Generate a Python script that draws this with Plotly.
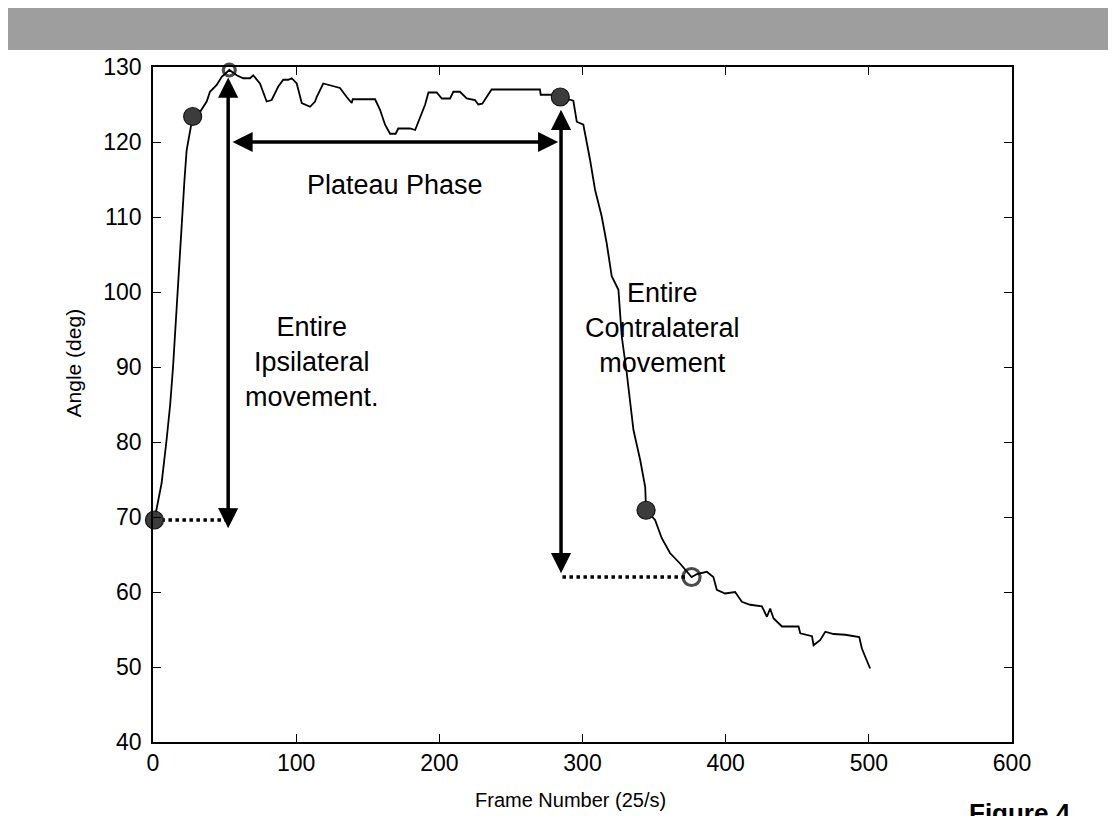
import plotly.graph_objects as go

# ---- data ----
frames = [1, 3, 6, 9.5, 12, 14, 17, 20, 22, 23.5, 26.5, 27.7, 32.8, 37.5, 39.8, 44.5, 48, 53.3,
          58.5, 63, 67.8, 70, 74.7, 79.4, 82.9, 87.5, 91, 94.5, 96.9, 100.4, 103.9, 109.7,
          113.2, 114.3, 118.9, 123.6, 130.6, 135.3, 138.8, 139.5, 155.1, 158.6, 162.1, 165.6,
          169.5, 171.3, 179.5, 183.1, 186.6, 190.1, 192.4, 198.2, 201.7, 207.5, 209.8, 214.4,
          219.1, 224.9, 227.2, 230, 236.5, 270.3, 270.8, 279.6, 284.5, 293.6, 296, 300.6,
          305.3, 308.8, 313.4, 316.9, 320.4, 325.1, 327.4, 330.9, 335.6, 340.3, 343.8, 344.4,
          350.7, 355.3, 361.1, 368.1, 376.2, 380, 386.8, 391.4, 393.8, 399.6, 406.6, 411.3,
          417.1, 425.3, 428.8, 431.1, 433.4, 439.3, 450.9, 452.1, 460.3, 461.4, 466.1, 469.6,
          475.4, 483.6, 493.3, 495.1, 497.4, 500.9]
angles = [69.6, 71.5, 74.5, 80.3, 85.0, 90.0, 99.9, 110.0, 115.0, 118.9, 122.0, 123.4, 124.0,
          125.4, 126.7, 127.6, 128.7, 129.6, 128.9, 128.5, 128.5, 128.9, 127.8, 125.4, 125.6,
          127.4, 128.3, 128.3, 128.5, 127.8, 125.2, 124.7, 125.4, 126.0, 127.8, 127.6, 127.2,
          126.0, 125.2, 125.7, 125.7, 124.3, 122.3, 121.1, 121.1, 121.8, 121.8, 121.6, 123.2,
          125.0, 126.6, 126.6, 125.8, 125.8, 126.7, 126.7, 125.8, 125.6, 125.0, 125.1, 127.0,
          127.0, 126.3, 126.3, 126.0, 125.5, 122.7, 122.3, 117.6, 113.6, 110.1, 106.5, 102.1,
          100.3, 94.1, 89.2, 81.6, 77.6, 74.0, 70.9, 69.6, 67.2, 65.2, 63.8, 62.0, 62.4, 62.7,
          62.0, 60.3, 59.8, 60.0, 58.7, 58.3, 58.1, 56.7, 57.8, 56.5, 55.4, 55.4, 54.5, 54.1,
          52.9, 53.6, 54.7, 54.4, 54.3, 54.0, 52.5, 51.4, 49.8]

filled_frames = [1, 27.7, 284.5, 344.4]
filled_angles = [69.6, 123.4, 126.0, 70.9]
open_frames = [53.3, 376.2]
open_angles = [129.6, 62.0]

# double-headed arrows: (x0, y0, x1, y1)
arrows = [
    (52.5, 68.3, 52.5, 128.6),
    (54.5, 120.0, 283.0, 120.0),
    (285.0, 62.3, 285.0, 124.3),
]
# dotted guide lines
dot1_x = [1, 51]
dot1_y = [69.6, 69.6]
dot2_x = [286, 373]
dot2_y = [62.0, 62.0]

labels = [
    ("Plateau Phase", 169, 114.3),
    ("Entire<br>Ipsilateral<br>movement.", 111, 90.7),
    ("Entire<br>Contralateral<br>movement", 356, 95.2),
]

x_ticks = [0, 100, 200, 300, 400, 500, 600]
y_ticks = [40, 50, 60, 70, 80, 90, 100, 110, 120, 130]

TXT = "Liberation Sans, Arial, sans-serif"

fig = go.Figure()
fig.add_trace(go.Scatter(x=frames, y=angles, mode="lines",
                         line=dict(color="black", width=1.8), hoverinfo="skip"))
fig.add_trace(go.Scatter(x=dot1_x, y=dot1_y, mode="lines",
                         line=dict(color="black", width=3.5, dash="dot")))
fig.add_trace(go.Scatter(x=dot2_x, y=dot2_y, mode="lines",
                         line=dict(color="black", width=3.5, dash="dot")))
fig.add_trace(go.Scatter(x=filled_frames, y=filled_angles, mode="markers",
                         marker=dict(size=18, color="#3c3c3c",
                                     line=dict(color="#111111", width=1.2)),
                         cliponaxis=False))
fig.add_trace(go.Scatter(x=open_frames, y=open_angles, mode="markers",
                         marker=dict(size=[12, 17], color="rgba(255,255,255,0)",
                                     line=dict(color="black", width=3.2)),
                         cliponaxis=False))

annotations = []
for x0, y0, x1, y1 in arrows:
    annotations.append(dict(x=x1, y=y1, ax=x0, ay=y0, xref="x", yref="y",
                            axref="x", ayref="y", text="", showarrow=True,
                            arrowhead=2, startarrowhead=2, arrowside="end+start",
                            arrowsize=1.15, startarrowsize=1.15, arrowwidth=3.5,
                            arrowcolor="black", standoff=0, startstandoff=0))
for txt, x, y in labels:
    annotations.append(dict(x=x, y=y, xref="x", yref="y", text=txt, showarrow=False,
                            font=dict(family=TXT, size=27, color="black"),
                            align="center"))
annotations.append(dict(x=-0.093, y=0.561, xref="paper", yref="paper",
                        xanchor="center", yanchor="middle",
                        text="Angle (deg)", textangle=-90, showarrow=False,
                        font=dict(family=TXT, size=21, color="black")))
annotations.append(dict(x=0.4865, y=-0.086, xref="paper", yref="paper",
                        xanchor="center", yanchor="middle",
                        text="Frame Number (25/s)", showarrow=False,
                        font=dict(family=TXT, size=20, color="black")))
annotations.append(dict(x=1.009, y=-0.08, xref="paper", yref="paper", yanchor="top",
                        xanchor="center",
                        text="<b>Figure 4</b>", showarrow=False,
                        font=dict(family=TXT, size=26, color="black")))
fig.update_layout(annotations=annotations)

# grey scanned band at top
fig.add_shape(type="rect", xref="paper", yref="paper",
              x0=-0.171, x1=1.13, y0=1.0252, y1=1.0933,
              fillcolor="#9e9e9e", line=dict(width=0), layer="below")

axis_common = dict(showline=True, linecolor="black", linewidth=1.6, mirror="ticks",
                   ticks="inside", ticklen=8, tickwidth=1.4, tickcolor="black",
                   showgrid=False, zeroline=False,
                   tickfont=dict(family=TXT, size=23, color="black"))
fig.update_xaxes(range=[0, 600], tickvals=x_ticks, **axis_common)
fig.update_yaxes(range=[40, 130], tickvals=y_ticks, ticklabelstandoff=5, **axis_common)

# page adds an 8px body margin, so the figure is offset by 8px
fig.update_layout(width=1108, height=808, autosize=False,
                  margin=dict(l=145, r=104, t=59, b=74),
                  paper_bgcolor="white", plot_bgcolor="white",
                  showlegend=False)

fig.write_html("out.html")
